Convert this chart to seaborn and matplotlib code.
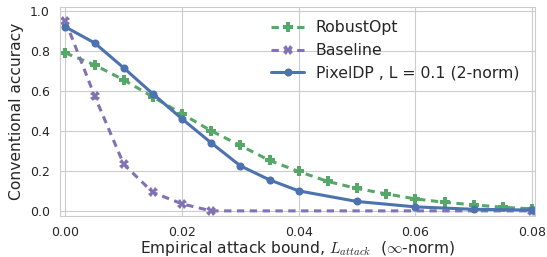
import matplotlib
matplotlib.use("Agg")
import matplotlib.pyplot as plt
import seaborn as sns

# -----------------------------
# DATA
# -----------------------------
robust_x = [0.0, 0.005, 0.01, 0.015, 0.02, 0.025, 0.03, 0.035, 0.04,
            0.045, 0.05, 0.055, 0.06, 0.065, 0.07, 0.075, 0.08]
robust_y = [0.79, 0.73, 0.655, 0.57, 0.485, 0.40, 0.327, 0.252, 0.197,
            0.147, 0.112, 0.085, 0.06, 0.043, 0.03, 0.018, 0.01]

baseline_x = [0.0, 0.005, 0.01, 0.015, 0.02, 0.025, 0.08]
baseline_y = [0.95, 0.575, 0.233, 0.092, 0.035, 0.0, 0.0]

pixeldp_x = [0.0, 0.005, 0.01, 0.015, 0.02, 0.025, 0.03, 0.035, 0.04,
             0.05, 0.06, 0.07, 0.08]
pixeldp_y = [0.92, 0.84, 0.715, 0.585, 0.46, 0.34, 0.225, 0.155, 0.10,
             0.047, 0.02, 0.008, 0.004]

labels = ["RobustOpt", "Baseline", "PixelDP , L = 0.1 (2-norm)"]

# -----------------------------
# CONFIG
# -----------------------------
sns.set_style("whitegrid")
plt.rcParams["font.family"] = ["DejaVu Sans"]
plt.rcParams["mathtext.fontset"] = "cm"
deep = sns.color_palette("deep")
blue, green, purple = deep[0], deep[2], deep[4]
DASH = (0, (2.4, 1.8))


def main() -> None:
    fig, ax = plt.subplots(figsize=(5.47, 2.57), dpi=100)

    sns.lineplot(x=robust_x, y=robust_y, ax=ax, color=green, lw=2.2,
                 linestyle=DASH, marker="P", markersize=6.5,
                 markeredgewidth=0, label=labels[0])
    sns.lineplot(x=baseline_x, y=baseline_y, ax=ax, color=purple, lw=2.2,
                 linestyle=DASH, marker="X", markersize=6.5,
                 markeredgewidth=0, label=labels[1])
    sns.lineplot(x=pixeldp_x, y=pixeldp_y, ax=ax, color=blue, lw=2.2,
                 marker="o", markersize=5.8, markeredgewidth=0,
                 label=labels[2])

    ax.set_xlim(-0.0009, 0.0805)
    ax.set_ylim(-0.025, 1.02)
    ax.set_xticks([0.0, 0.02, 0.04, 0.06, 0.08])
    ax.set_xticklabels(["0.00", "0.02", "0.04", "0.06", "0.08"])
    ax.set_yticks([0.0, 0.2, 0.4, 0.6, 0.8, 1.0])
    ax.tick_params(labelsize=9, pad=4)

    ax.set_ylabel("Conventional accuracy", fontsize=11.2, labelpad=4)
    ax.set_xlabel(r"Empirical attack bound, $L_{attack}$  ($\infty$-norm)",
                  fontsize=11.2, labelpad=0)

    ax.legend(loc="upper right", frameon=False, fontsize=11.3,
              handlelength=2.1, borderaxespad=0.45, labelspacing=0.5,
              handletextpad=0.75, bbox_to_anchor=(0.995, 1.0))

    plt.subplots_adjust(left=0.11, right=0.978, top=0.973, bottom=0.16)
    plt.savefig("out.png", dpi=100)
    plt.close()


if __name__ == "__main__":
    main()
